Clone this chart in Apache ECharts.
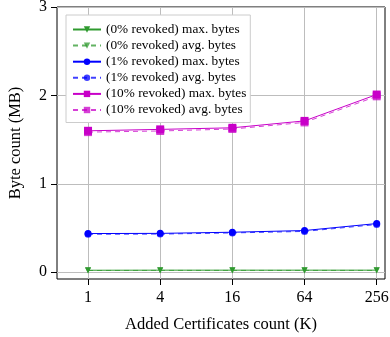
<!DOCTYPE html>
<html>
<head>
<meta charset="utf-8">
<script src="https://cdn.jsdelivr.net/npm/echarts@6/dist/echarts.min.js"></script>
<style>
  html, body { margin: 0; padding: 0; background: #fff; }
  #chart { width: 390px; height: 337px; }
</style>
</head>
<body>
<div id="chart"></div>
<script>
// 横轴：新增证书数量 (K)
const certCounts = [1, 4, 16, 64, 256];
const yTicks = [0, 1, 2, 3];

const names = [
  '(0% revoked) max. bytes',
  '(0% revoked) avg. bytes',
  '(1% revoked) max. bytes',
  '(1% revoked) avg. bytes',
  '(10% revoked) max. bytes',
  '(10% revoked) avg. bytes'
];
const max0 = [0.023, 0.024, 0.024, 0.024, 0.024];
const avg0 = [0.020, 0.021, 0.021, 0.021, 0.021];
const max1 = [0.438, 0.440, 0.453, 0.472, 0.551];
const avg1 = [0.430, 0.432, 0.445, 0.462, 0.540];
const max10 = [1.600, 1.616, 1.634, 1.712, 2.010];
const avg10 = [1.585, 1.598, 1.620, 1.695, 1.990];

const font = 'Liberation Serif';
const green = '#2f9a2f', blue = '#0000ff', magenta = '#c800c8';

function mk(name, vals, color, symbol, dashed, size) {
  return {
    name: name,
    type: 'line',
    data: certCounts.map((c, i) => [Math.log2(c), vals[i]]),
    symbol: symbol,
    symbolSize: size,
    symbolRotate: symbol === 'triangle' ? 180 : 0,
    itemStyle: { color: color, opacity: dashed ? 0.75 : 1 },
    lineStyle: { color: color, width: 1, type: dashed ? [5, 4] : 'solid', opacity: dashed ? 0.75 : 1 },
    emphasis: { disabled: true },
    animation: false
  };
}

const myChart = echarts.init(document.getElementById('chart'));
myChart.setOption({
  animation: false,
  textStyle: { fontFamily: font },
  grid: {
    left: 57, right: 5, top: 7, bottom: 58,
    outerBoundsMode: 'none',
    containLabel: false,
    show: true, borderColor: '#000', borderWidth: 1
  },
  legend: {
    orient: 'vertical',
    left: 66, top: 15,
    padding: [8, 4, 6, 6],
    itemWidth: 28, itemHeight: 8, itemGap: 3.1,
    backgroundColor: '#fff',
    borderColor: '#cccccc', borderWidth: 1,
    textStyle: { fontFamily: font, fontSize: 13.3, color: '#000' },
    data: names
  },
  xAxis: {
    type: 'value',
    min: -0.86, max: 8.23,
    name: 'Added Certificates count (K)',
    nameLocation: 'middle', nameGap: 37,
    nameTextStyle: { fontFamily: font, fontSize: 16.5, color: '#000' },
    axisLine: { show: false, onZero: false },
    axisTick: { show: true, customValues: certCounts.map(c => Math.log2(c)), length: 6, inside: false, lineStyle: { color: '#000' } },
    axisLabel: {
      customValues: certCounts.map(c => Math.log2(c)),
      formatter: v => String(Math.round(Math.pow(2, v))),
      fontFamily: font, fontSize: 16, color: '#000', margin: 11
    },
    splitLine: { show: true, lineStyle: { color: '#bdbdbd', width: 1 } }
  },
  yAxis: {
    type: 'value',
    min: -0.076, max: 3,
    name: 'Byte count (MB)',
    nameLocation: 'middle', nameGap: 33,
    nameTextStyle: { fontFamily: font, fontSize: 16.5, color: '#000' },
    axisLine: { show: false, onZero: false },
    axisTick: { show: true, customValues: yTicks, length: 6, lineStyle: { color: '#000' } },
    axisLabel: { customValues: yTicks, fontFamily: font, fontSize: 16, color: '#000', margin: 10 },
    splitLine: { show: true, lineStyle: { color: '#bdbdbd', width: 1 } }
  },
  series: [
    mk(names[0], max0, green, 'triangle', false, 6),
    mk(names[1], avg0, green, 'triangle', true, 6),
    mk(names[2], max1, blue, 'circle', false, 7),
    mk(names[3], avg1, blue, 'circle', true, 7),
    mk(names[4], max10, magenta, 'rect', false, 8),
    mk(names[5], avg10, magenta, 'rect', true, 8)
  ]
});
</script>
</body>
</html>
